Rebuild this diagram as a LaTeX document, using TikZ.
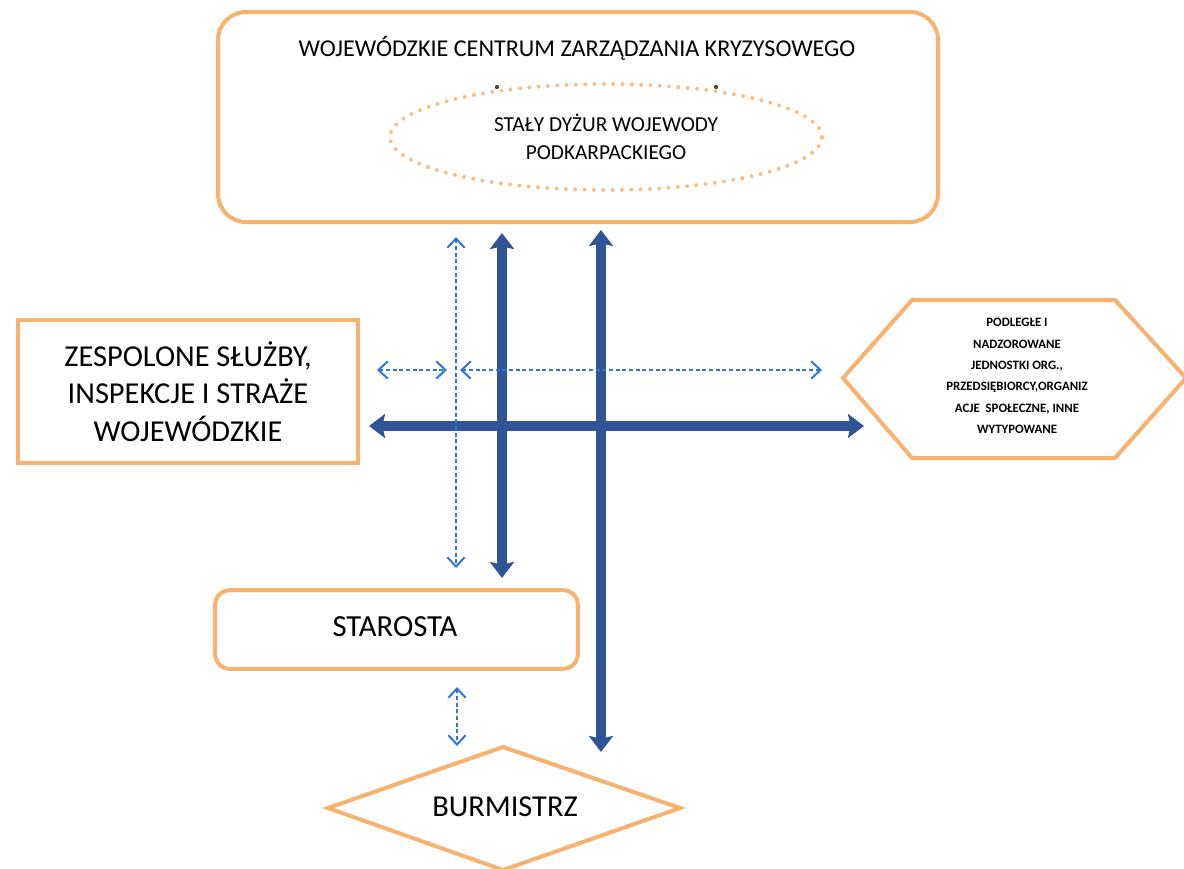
\documentclass[tikz,border=0pt]{standalone}
\usepackage{fontspec}
\setmainfont{Carlito}
\usetikzlibrary{shapes.geometric,arrows.meta}
\definecolor{ora}{RGB}{247,178,112}
\definecolor{oradot}{RGB}{250,190,135}
\definecolor{dblue}{RGB}{47,85,151}
\definecolor{lblue}{RGB}{46,117,214}
\definecolor{brn}{RGB}{90,60,40}
\begin{document}
\begin{tikzpicture}[x=0.75pt,y=-0.75pt,
  box/.style={draw=ora,line width=3pt,fill=white,align=center,text=black},
  bigarrow/.style={draw=dblue,line width=7pt,{Stealth[length=12pt,width=18pt,inset=2pt]}-{Stealth[length=12pt,width=18pt,inset=2pt]}},
  dasharrow/.style={draw=lblue,line width=1.5pt,dash pattern=on 3pt off 2pt,{Straight Barb[length=7pt,width=13pt,line width=1.5pt]}-{Straight Barb[length=7pt,width=13pt,line width=1.5pt]}},
  lbl/.style={align=center,text=black,inner sep=0pt}]
\useasboundingbox (0,0) rectangle (1184,868);
% top box
\node[box,rounded corners=21pt,minimum width=540pt,minimum height=157.5pt] (wczk) at (578,117) {};
\node[lbl,font=\fontsize{18.1}{21}\selectfont] (title) at (577,48) {WOJEWÓDZKIE CENTRUM ZARZĄDZANIA KRYZYSOWEGO};
\node[ellipse,draw=oradot,line width=3pt,line cap=round,dash pattern=on 0pt off 7pt,minimum width=324pt,minimum height=79.5pt,align=center,font=\fontsize{16}{21}\selectfont,text=black] (duty) at (606,137) {STAŁY DYŻUR WOJEWODY\\PODKARPACKIEGO};
\fill[brn] (497,87) circle (1.6pt);
\fill[brn] (716,87) circle (1.6pt);
% left box
\node[box,minimum width=255pt,minimum height=107pt,font=\fontsize{22.8}{28}\selectfont] (zesp) at (188,391.5) {ZESPOLONE SŁUŻBY,\\INSPEKCJE I STRAŻE\\WOJEWÓDZKIE};
% hexagon
\coordinate (h1) at (843,378);
\coordinate (h2) at (912,300);
\coordinate (h3) at (1115,300);
\coordinate (h4) at (1186,378);
\coordinate (h5) at (1115,458);
\coordinate (h6) at (912,458);
\draw[draw=ora,line width=3pt,fill=white,line join=miter] (h1) -- (h2) -- (h3) -- (h4) -- (h5) -- (h6) -- cycle;
\node[lbl,font=\bfseries\fontsize{9.6}{16}\selectfont] (pod) at (1017,376) {PODLEGŁE I\\NADZOROWANE\\JEDNOSTKI ORG.,\\PRZEDSIĘBIORCY,ORGANIZ\\ACJE\ \ SPOŁECZNE, INNE\\WYTYPOWANE};
% starosta
\node[box,rounded corners=11pt,minimum width=272pt,minimum height=59pt] (star) at (396.5,629.5) {};
\node[lbl,font=\fontsize{23}{24}\selectfont] (startxt) at (395,627) {STAROSTA};
% burmistrz
\coordinate (b1) at (328,808);
\coordinate (b2) at (503,747);
\coordinate (b3) at (680,808);
\coordinate (b4) at (503,870);
\draw[draw=ora,line width=3pt,fill=white] (b1) -- (b2) -- (b3) -- (b4) -- cycle;
\node[lbl,font=\fontsize{22.8}{24}\selectfont] (burm) at (505,807) {BURMISTRZ};
% arrow end points
\coordinate (v1t) at (502,233); \coordinate (v1b) at (502,578);
\coordinate (v2t) at (601,230); \coordinate (v2b) at (601,752);
\coordinate (hl) at (369,426); \coordinate (hr) at (864,426);
\coordinate (dvt) at (456,237); \coordinate (dvb) at (456,568);
\coordinate (dsl) at (377,370); \coordinate (dsr) at (447,370);
\coordinate (dll) at (460,370); \coordinate (dlr) at (822,370);
\coordinate (sbt) at (457,687); \coordinate (sbb) at (457,746);
\draw[bigarrow] (hl) -- (hr);
\draw[bigarrow] (v1t) -- (v1b);
\draw[bigarrow] (v2t) -- (v2b);
\draw[dasharrow] (dvt) -- (dvb);
\draw[dasharrow] (dsl) -- (dsr);
\draw[dasharrow] (dll) -- (dlr);
\draw[dasharrow] (sbt) -- (sbb);
\end{tikzpicture}
\end{document}
